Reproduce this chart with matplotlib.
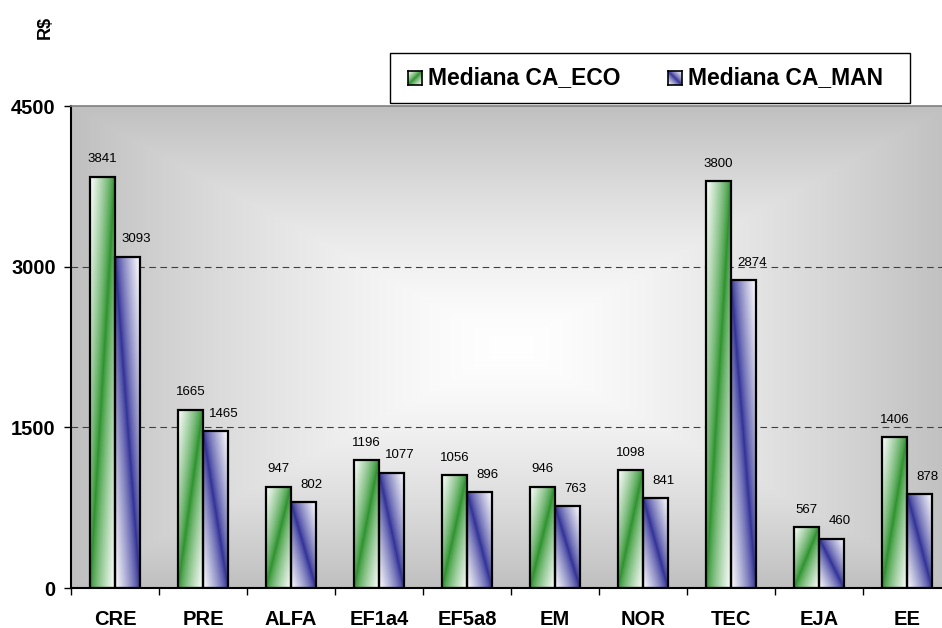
import numpy as np
import matplotlib
matplotlib.use("Agg")
import matplotlib.pyplot as plt
from matplotlib.patches import Rectangle

plt.rcParams['font.family'] = ['Liberation Sans', 'DejaVu Sans']

categories = ['CRE', 'PRE', 'ALFA', 'EF1a4', 'EF5a8', 'EM', 'NOR', 'TEC', 'EJA', 'EE']
mediana_eco = [3841, 1665, 947, 1196, 1056, 946, 1098, 3800, 567, 1406]
mediana_man = [3093, 1465, 802, 1077, 896, 763, 841, 2874, 460, 878]
y_ticks = [0, 1500, 3000, 4500]

GREEN = np.array([40, 145, 40]) / 255
BLUE = np.array([45, 45, 150]) / 255
WHITE = np.array([1.0, 1.0, 1.0])


def diag_gradient(color, up=True, n=200):
    # colour along the diagonal, fading to white towards the corners
    u = np.linspace(0, 1, n)[None, :]
    v = np.linspace(0, 1, n)[:, None]
    d = np.abs(u - v) if up else np.abs(u - (1 - v))
    d = np.clip(d, 0, 1) ** 0.75
    d = d[..., None]
    return color * (1 - d) + WHITE * d


def center_gradient(nx=400, ny=300):
    x = np.linspace(-1, 1, nx)[None, :]
    y = np.linspace(-1, 1, ny)[:, None]
    t = np.maximum(np.abs(x), np.abs(y)) ** 1.4
    t = t[..., None]
    gray = np.array([0.75, 0.75, 0.75])
    return WHITE * (1 - t) + gray * t


fig = plt.figure(figsize=(9.42, 6.28), dpi=100)
ax = fig.add_axes([71 / 942, 40 / 628, 880 / 942, 482 / 628])

n = len(categories)
x = np.arange(n)
w = 0.284

ax.imshow(center_gradient(), extent=(-0.5, n - 0.5, 0, 4500), origin='lower',
          aspect='auto', zorder=0, interpolation='bilinear')

for yv in [1500, 3000]:
    ax.axhline(yv, color='#404040', lw=0.8, dashes=(6, 4), zorder=1)

for i in range(n):
    x_eco = x[i] - w / 2
    x_man = x[i] + w / 2
    ax.imshow(diag_gradient(GREEN, up=True), extent=(x_eco - w / 2, x_eco + w / 2, 0, mediana_eco[i]),
              origin='lower', aspect='auto', zorder=2, interpolation='bilinear')
    ax.imshow(diag_gradient(BLUE, up=False), extent=(x_man - w / 2, x_man + w / 2, 0, mediana_man[i]),
              origin='lower', aspect='auto', zorder=2, interpolation='bilinear')

ax.bar(x - w / 2, mediana_eco, width=w, fill=False, edgecolor='black', linewidth=1.6, zorder=3)
ax.bar(x + w / 2, mediana_man, width=w, fill=False, edgecolor='black', linewidth=1.6, zorder=3)

for i in range(n):
    ax.annotate(str(mediana_eco[i]), (x[i] - w / 2, mediana_eco[i]), xytext=(0, 12.5),
                textcoords='offset points', ha='center', va='center', fontsize=9.5, zorder=4)
    ax.annotate(str(mediana_man[i]), (x[i] + w / 2, mediana_man[i]), xytext=(6, 12.5),
                textcoords='offset points', ha='center', va='center', fontsize=9.5, zorder=4)

ax.set_xlim(-0.5, n - 0.5)
ax.set_ylim(0, 4500)
ax.set_yticks(y_ticks)
ax.set_yticklabels([str(t) for t in y_ticks], fontsize=14.5, fontweight='bold')
ax.set_xticks(x)
ax.set_xticklabels(categories, fontsize=14.5, fontweight='bold')
ax.set_xticks(np.arange(-0.5, n, 1), minor=True)
ax.tick_params(axis='x', which='major', length=0, pad=16)
ax.tick_params(axis='x', which='minor', length=5, width=1, direction='out')
ax.tick_params(axis='y', length=5, width=1, direction='out', pad=6)

ax.spines['left'].set_linewidth(1.5)
ax.spines['bottom'].set_linewidth(1.5)
ax.spines['top'].set_color('#808080')
ax.spines['top'].set_linewidth(1.2)
ax.spines['right'].set_visible(False)

fig.text(45 / 942, 1 - 27 / 628, 'R$', rotation=90, fontsize=13, fontweight='bold',
         ha='center', va='center')

# legend drawn by hand so the swatches keep their gradients
fig.patches.append(Rectangle((390 / 942, 1 - 103 / 628), 520 / 942, 50 / 628,
                             transform=fig.transFigure, facecolor='white',
                             edgecolor='black', linewidth=1, zorder=0.5))
for sx, tx, col, up, label in [(408, 428, GREEN, True, 'Mediana CA_ECO'),
                               (668, 688, BLUE, False, 'Mediana CA_MAN')]:
    sw = fig.add_axes([sx / 942, 1 - 85 / 628, 14 / 942, 14 / 628])
    sw.set_zorder(2)
    sw.imshow(diag_gradient(col, up=up), origin='lower', aspect='auto', interpolation='bilinear')
    sw.set_xticks([])
    sw.set_yticks([])
    for s in sw.spines.values():
        s.set_linewidth(1.2)
    fig.text(tx / 942, 1 - 78 / 628, label, fontsize=16.5, fontweight='bold',
             ha='left', va='center')

fig.savefig('out.png', dpi=100)
